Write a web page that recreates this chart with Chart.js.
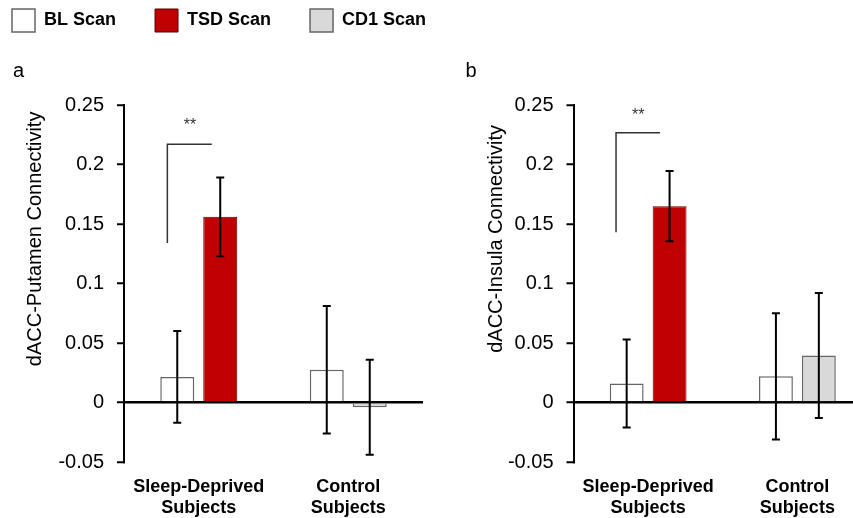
<!DOCTYPE html>
<html>
<head>
<meta charset="utf-8">
<script src="https://cdn.jsdelivr.net/npm/chart.js@4.4.1/dist/chart.umd.min.js"></script>
<style>
  html, body { margin: 0; padding: 0; background: #fff; width: 853px; height: 518px; overflow: hidden; position: relative; }
  canvas { position: absolute; }
  #chart-a { left: -27px; top: -30px; }
  #chart-b { left: 440px; top: 0px; }
</style>
</head>
<body>
<canvas id="chart-a" width="520" height="548"></canvas>
<canvas id="chart-b" width="432" height="518"></canvas>
<script>
// Groups on the x axis
const groups = [["Sleep-Deprived", "Subjects"], ["Control", "Subjects"]];
const scanNames = ["BL Scan", "TSD Scan", "CD1 Scan"];
const yTicks = [-0.05, 0, 0.05, 0.1, 0.15, 0.2, 0.25];

// Panel a: dACC-Putamen connectivity (mean, error)
const putamenBL = [0.0215, 0.0275];
const putamenBLErr = [0.0385, 0.0535];
const putamenTSD = [0.156, null];
const putamenTSDErr = [0.033, null];
const putamenCD1 = [null, -0.004];
const putamenCD1Err = [null, 0.04];

// Panel b: dACC-Insula connectivity (mean, error)
const insulaBL = [0.016, 0.022];
const insulaBLErr = [0.037, 0.053];
const insulaTSD = [0.165, null];
const insulaTSDErr = [0.0295, null];
const insulaCD1 = [null, 0.0395];
const insulaCD1Err = [null, 0.0525];

// Significance brackets: [x start, x end, stars x] as offset from group 0, [low y, top y, stars y]
const bracketA = { x: [-0.21, 0.087, -0.058], y: [0.134, 0.217, 0.235] };
const bracketB = { x: [-0.215, 0.08, -0.067], y: [0.143, 0.2267, 0.2433] };

const FONT = "'Liberation Sans', Arial, sans-serif";

// Draw error bars, brackets, panel letters and y titles
const extras = {
  id: "extras",
  afterDatasetsDraw(chart, args, opts) {
    const ctx = chart.ctx,
      xs = chart.scales.x,
      ys = chart.scales.y;

    ctx.save();
    ctx.strokeStyle = "#000";
    ctx.lineWidth = 2;
    chart.data.datasets.forEach((ds, i) => {
      let meta = chart.getDatasetMeta(i);
      ds.data.forEach((v, j) => {
        if (v === null) return;
        let bar = meta.data[j],
          e = ds.errors[j],
          top = ys.getPixelForValue(v + e),
          bot = ys.getPixelForValue(v - e);
        ctx.beginPath();
        ctx.moveTo(bar.x, top);
        ctx.lineTo(bar.x, bot);
        ctx.moveTo(bar.x - 4, top);
        ctx.lineTo(bar.x + 4, top);
        ctx.moveTo(bar.x - 4, bot);
        ctx.lineTo(bar.x + 4, bot);
        ctx.stroke();
      });
    });

    // bracket
    let b = opts.bracket;
    let x0 = xs.getPixelForValue(b.x[0]),
      x1 = xs.getPixelForValue(b.x[1]);
    ctx.strokeStyle = "#333";
    ctx.lineWidth = 1.5;
    ctx.beginPath();
    ctx.moveTo(x0, ys.getPixelForValue(b.y[0]));
    ctx.lineTo(x0, ys.getPixelForValue(b.y[1]));
    ctx.lineTo(x1, ys.getPixelForValue(b.y[1]));
    ctx.stroke();
    ctx.fillStyle = "#333";
    ctx.font = "16px " + FONT;
    ctx.textAlign = "center";
    ctx.textBaseline = "middle";
    ctx.fillText("**", xs.getPixelForValue(b.x[2]), ys.getPixelForValue(b.y[2]) + 3);

    // panel letter
    ctx.fillStyle = "#000";
    ctx.font = "20px " + FONT;
    ctx.textAlign = "left";
    ctx.textBaseline = "alphabetic";
    ctx.fillText(opts.letter, chart.chartArea.left - opts.letterDx, chart.chartArea.top - 28);

    // y axis title
    let area = chart.chartArea;
    ctx.translate(area.left - opts.titleDx, area.top + 0.375 * (area.bottom - area.top));
    ctx.rotate(-Math.PI / 2);
    ctx.textAlign = "center";
    ctx.textBaseline = "middle";
    ctx.fillText(opts.title, 0, 0);
    ctx.restore();
  },
};

// blank axis used only to reserve room
function spacer(position, size) {
  return {
    type: "linear",
    position: position,
    display: true,
    grid: { display: false, drawTicks: false },
    border: { display: false },
    ticks: { display: false },
    afterFit: (s) => {
      if (s.isHorizontal()) s.height = size;
      else s.width = size;
    },
  };
}

function makeChart(id, bl, blErr, tsd, tsdErr, cd1, cd1Err, cfg) {
  return new Chart(document.getElementById(id), {
    type: "bar",
    data: {
      labels: groups,
      datasets: [
        { label: scanNames[0], data: bl, errors: blErr, backgroundColor: "#ffffff", borderColor: "#666666", borderWidth: 1.5 },
        { label: scanNames[1], data: tsd, errors: tsdErr, backgroundColor: "#c00000", borderColor: "#5a0000", borderWidth: 1 },
        { label: scanNames[2], data: cd1, errors: cd1Err, backgroundColor: "#d9d9d9", borderColor: "#666666", borderWidth: 1.5 },
      ],
    },
    options: {
      responsive: false,
      animation: false,
      devicePixelRatio: 1,
      skipNull: true,
      categoryPercentage: 0.575,
      barPercentage: 0.79,
      layout: { padding: cfg.padding },
      plugins: {
        legend: {
          display: cfg.legend,
          position: "top",
          align: "start",
          labels: {
            boxWidth: 23,
            boxHeight: 23,
            padding: 39,
            color: "#000",
            font: { family: FONT, size: 18, weight: "bold" },
          },
        },
        tooltip: { enabled: false },
        extras: cfg.extras,
      },
      scales: {
        x: {
          grid: { display: false, drawTicks: false },
          border: { display: false },
          ticks: { padding: 14, color: "#000", font: { family: FONT, size: 18, weight: "bold" } },
          afterFit: (s) => { s.height = 56; },
        },
        y: {
          min: -0.05,
          max: 0.25,
          afterBuildTicks: (s) => { s.ticks = yTicks.map((v) => ({ value: v })); },
          grid: {
            drawOnChartArea: true,
            color: (c) => (c.tick && Math.abs(c.tick.value) < 1e-9 ? "#000" : "rgba(0,0,0,0)"),
            lineWidth: 2.5,
            tickColor: "#000",
            tickWidth: 2,
            tickLength: 7,
          },
          border: { display: true, color: "#000", width: 2 },
          ticks: {
            padding: 13,
            color: "#000",
            font: { family: FONT, size: 20 },
            callback: (v) => String(+Number(v).toFixed(2)),
          },
          afterFit: (s) => { s.width = cfg.yWidth; },
        },
        ...cfg.extraScales,
      },
    },
    plugins: [extras],
  });
}

// Panel a carries the shared legend; blank axes keep the plot where it sits in the figure
makeChart("chart-a", putamenBL, putamenBLErr, putamenTSD, putamenTSDErr, putamenCD1, putamenCD1Err, {
  legend: true,
  padding: { left: 0, right: 0, top: 0, bottom: 0 },
  yWidth: 151,
  extraScales: { spacerTop: spacer("top", 63), spacerRight: spacer("right", 70) },
  extras: { bracket: bracketA, letter: "a", letterDx: 111, title: "dACC-Putamen Connectivity", titleDx: 89 },
});

makeChart("chart-b", insulaBL, insulaBLErr, insulaTSD, insulaTSDErr, insulaCD1, insulaCD1Err, {
  legend: false,
  padding: { left: 0, right: 0, top: 105, bottom: 0 },
  yWidth: 133.5,
  extraScales: {},
  extras: { bracket: bracketB, letter: "b", letterDx: 108, title: "dACC-Insula Connectivity", titleDx: 77.5 },
});
</script>
</body>
</html>
